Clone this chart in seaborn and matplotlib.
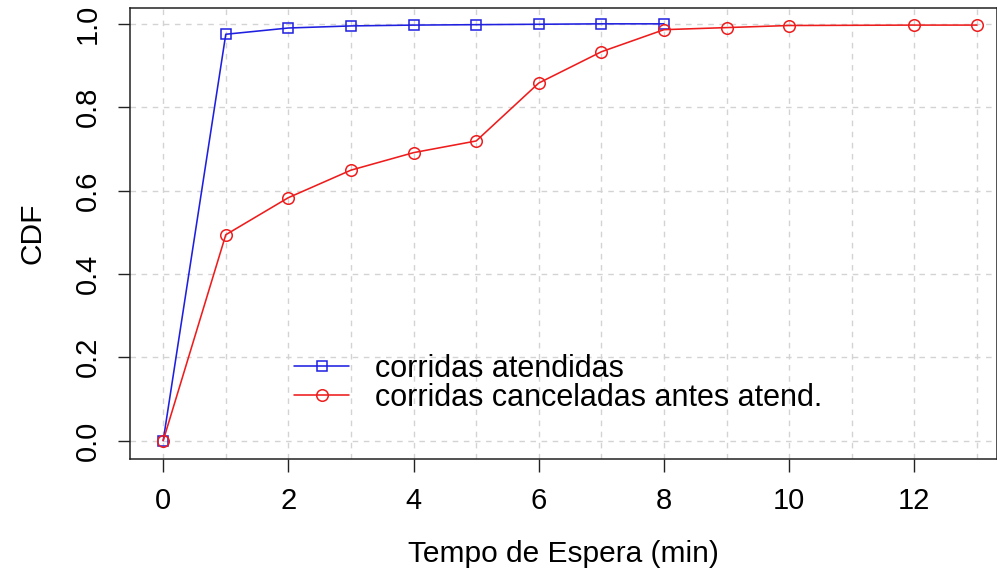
import numpy as np
import pandas as pd
import seaborn as sns
import matplotlib.pyplot as plt

# espera (min) e CDF
x_atendidas = [0, 1, 2, 3, 4, 5, 6, 7, 8]
cdf_atendidas = [0.0, 0.975, 0.99, 0.995, 0.997, 0.998, 0.999, 1.0, 1.0]

x_canceladas = [0, 1, 2, 3, 4, 5, 6, 7, 8, 9, 10, 12, 13]
cdf_canceladas = [0.0, 0.494, 0.583, 0.649, 0.691, 0.719, 0.858, 0.933,
                  0.986, 0.991, 0.996, 0.997, 0.997]

labels = ["corridas atendidas", "corridas canceladas antes atend."]
x_ticks = [0, 2, 4, 6, 8, 10, 12]
y_ticks = [0.0, 0.2, 0.4, 0.6, 0.8, 1.0]

sns.set_style("white")
plt.rcParams['font.family'] = ['Liberation Sans', 'DejaVu Sans']
plt.rcParams['text.color'] = 'black'

W, H = 997, 573
fig = plt.figure(figsize=(W / 100, H / 100), dpi=100)
ax = fig.add_axes([130 / W, 1 - 459 / H, 867 / W, 451 / H])

df_a = pd.DataFrame({"x": x_atendidas, "cdf": cdf_atendidas})
df_c = pd.DataFrame({"x": x_canceladas, "cdf": cdf_canceladas})

blue, red = "#1f1fe0", "#ee1c1c"
sns.lineplot(data=df_a, x="x", y="cdf", ax=ax, color=blue, lw=1.15,
             marker="s", ms=7.2, mfc="none", mec=blue, mew=1.1,
             label=labels[0], zorder=3)
sns.lineplot(data=df_c, x="x", y="cdf", ax=ax, color=red, lw=1.15,
             marker="o", ms=8.3, mfc="none", mec=red, mew=1.1,
             label=labels[1], zorder=3)

# grade tracejada em cada inteiro / 0.2
for gx in range(0, 14):
    ax.axvline(gx, color="#d3d3d3", lw=1, ls=(0, (4, 4)), zorder=1)
for gy in y_ticks:
    ax.axhline(gy, color="#d3d3d3", lw=1, ls=(0, (4, 4)), zorder=1)

ax.set_xlim(-0.53, 13.32)
ax.set_ylim(-0.044, 1.038)
ax.set_xticks(x_ticks)
ax.set_yticks(y_ticks)
ax.set_xticklabels([str(t) for t in x_ticks], fontsize=21)
ax.set_yticklabels([f"{t:.1f}" for t in y_ticks], fontsize=21,
                   rotation=90, va="center")
ax.tick_params(direction="out", length=9, width=1.0, color="#222222",
               labelcolor="black", pad=11, left=True, bottom=True)
for s in ax.spines.values():
    s.set_color("#222222")
    s.set_linewidth(1.1)

ax.set_xlabel("Tempo de Espera (min)", fontsize=21.5, labelpad=18, color="black")
ax.set_ylabel("CDF", fontsize=21.5, labelpad=20, color="black")

ax.legend(loc="upper left", bbox_to_anchor=(294 / W, 1 - 354 / H),
          bbox_transform=fig.transFigure, frameon=False,
          fontsize=22, handlelength=1.8, handletextpad=0.85,
          labelspacing=-0.04, borderpad=0, borderaxespad=0)

fig.savefig("out.png", dpi=100)
